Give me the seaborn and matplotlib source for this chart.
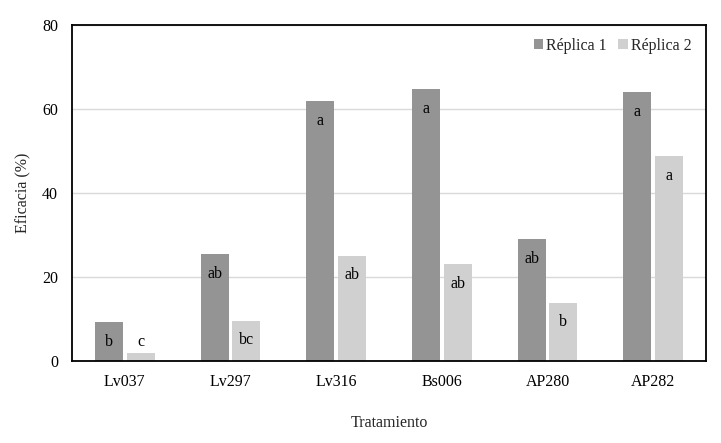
import pandas as pd
import numpy as np
import seaborn as sns
import matplotlib.pyplot as plt

# datos
tratamientos = ['Lv037', 'Lv297', 'Lv316', 'Bs006', 'AP280', 'AP282']
replica_1 = [9.3, 25.5, 61.8, 64.8, 29.0, 64.0]
replica_2 = [2.0, 9.6, 25.1, 23.1, 13.9, 48.8]
letras_1 = ['b', 'ab', 'a', 'a', 'ab', 'a']
letras_2 = ['c', 'bc', 'ab', 'ab', 'b', 'a']

df = pd.DataFrame({
    'Tratamiento': tratamientos * 2,
    'Eficacia': replica_1 + replica_2,
    'Replica': ['Réplica 1'] * 6 + ['Réplica 2'] * 6,
    'Letra': letras_1 + letras_2,
})

sns.set_style('white')
plt.rcParams['font.family'] = ['Liberation Serif', 'DejaVu Serif']

fig = plt.figure(figsize=(7.21, 4.43), dpi=100)
ax = fig.add_axes([0.0999, 0.185, 0.8793, 0.7586])

ax.yaxis.grid(True, color='#d9d9d9', linewidth=1)
ax.set_axisbelow(True)

sns.barplot(data=df, x='Tratamiento', y='Eficacia', hue='Replica',
            palette=['#949494', '#d0d0d0'], width=0.6, gap=0.12,
            saturation=1, errorbar=None, linewidth=0, ax=ax)

# letras dentro de las barras
for cont, letras in zip(ax.containers, [letras_1, letras_2]):
    for bar, letra in zip(cont, letras):
        h = bar.get_height()
        ax.text(bar.get_x() + bar.get_width() / 2, max(h - 4.7, 4.6), letra,
                ha='center', va='center', fontsize=11.5, color='black')

ax.set_ylim(0, 80)
ax.set_yticks([0, 20, 40, 60, 80])
ax.set_xlim(-0.5, 5.5)
ax.tick_params(axis='both', length=0, labelsize=11.5, colors='black')
ax.tick_params(axis='y', pad=10)
ax.tick_params(axis='x', pad=9)

for s in ax.spines.values():
    s.set_color('black')
    s.set_linewidth(1.3)

ax.set_xlabel('Tratamiento', fontsize=11.5, labelpad=18)
ax.set_ylabel('Eficacia (%)', fontsize=11.5, labelpad=8)

ax.legend(loc='upper right', ncol=2, frameon=False, fontsize=11.5,
          handlelength=0.6, handleheight=0.6, handletextpad=0.2,
          columnspacing=0.7, bbox_to_anchor=(1.0, 1.005))

plt.savefig('out.png', dpi=100)
plt.close()
